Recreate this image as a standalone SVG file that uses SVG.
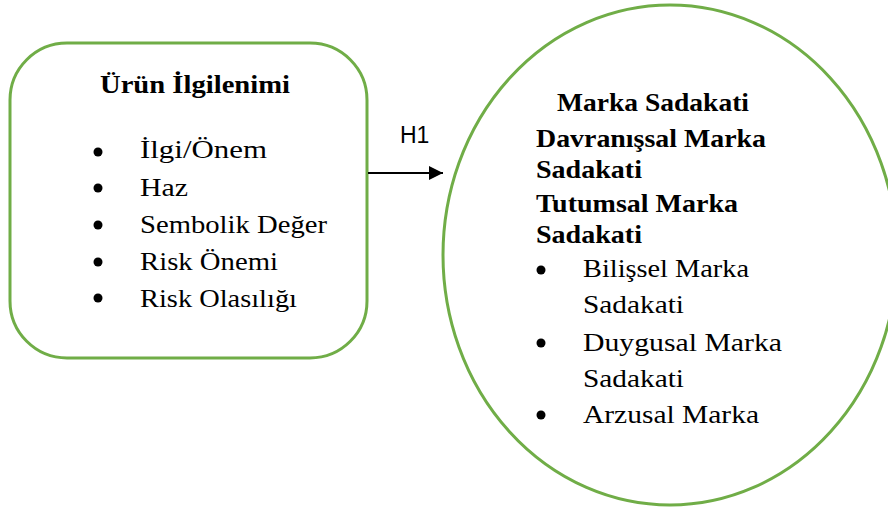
<svg xmlns="http://www.w3.org/2000/svg" width="888" height="510" viewBox="0 0 888 510">
<defs>
<style>
.shape{fill:#ffffff;stroke:#70AD47;stroke-width:3}
.t{font-family:"Liberation Serif","Times New Roman",serif;font-size:26px;fill:#000}
.b{font-weight:bold}
.h{font-family:"Liberation Sans",Arial,sans-serif;font-size:23px;fill:#000}
.dot{fill:#000}
</style>
<marker id="arr" viewBox="0 0 10 10" refX="10" refY="5" markerWidth="18" markerHeight="14" markerUnits="userSpaceOnUse" orient="auto">
<path d="M0,0 L10,5 L0,10 Z" fill="#000"/>
</marker>
</defs>
<rect width="888" height="510" fill="#fff"/>
<g id="urun-ilgilenimi">
<rect class="shape" x="10" y="43" width="357" height="315" rx="57" ry="57"/>
<text class="t b" x="100" y="93" textLength="190" lengthAdjust="spacingAndGlyphs">Ürün İlgilenimi</text>
<circle class="dot" cx="98" cy="152" r="4.5"/>
<circle class="dot" cx="98" cy="188" r="4.5"/>
<circle class="dot" cx="98" cy="225" r="4.5"/>
<circle class="dot" cx="98" cy="262" r="4.5"/>
<circle class="dot" cx="98" cy="298" r="4.5"/>
<text class="t" x="140" y="158" textLength="127" lengthAdjust="spacingAndGlyphs">İlgi/Önem</text>
<text class="t" x="140" y="196" textLength="48" lengthAdjust="spacingAndGlyphs">Haz</text>
<text class="t" x="140" y="233" textLength="187" lengthAdjust="spacingAndGlyphs">Sembolik Değer</text>
<text class="t" x="140" y="270" textLength="138" lengthAdjust="spacingAndGlyphs">Risk Önemi</text>
<text class="t" x="140" y="307" textLength="157" lengthAdjust="spacingAndGlyphs">Risk Olasılığı</text>
</g>
<g id="marka-sadakati">
<ellipse class="shape" cx="670" cy="255" rx="227" ry="250"/>
<text class="t b" x="557" y="111" textLength="192" lengthAdjust="spacingAndGlyphs">Marka Sadakati</text>
<text class="t b" x="536" y="147" textLength="230" lengthAdjust="spacingAndGlyphs">Davranışsal Marka</text>
<text class="t b" x="536" y="178" textLength="106" lengthAdjust="spacingAndGlyphs">Sadakati</text>
<text class="t b" x="536" y="212" textLength="202" lengthAdjust="spacingAndGlyphs">Tutumsal Marka</text>
<text class="t b" x="536" y="243" textLength="106" lengthAdjust="spacingAndGlyphs">Sadakati</text>
<circle class="dot" cx="541" cy="270" r="4.5"/>
<circle class="dot" cx="541" cy="343" r="4.5"/>
<circle class="dot" cx="541" cy="415" r="4.5"/>
<text class="t" x="583" y="277" textLength="166" lengthAdjust="spacingAndGlyphs">Bilişsel Marka</text>
<text class="t" x="583" y="313" textLength="101" lengthAdjust="spacingAndGlyphs">Sadakati</text>
<text class="t" x="583" y="351" textLength="199" lengthAdjust="spacingAndGlyphs">Duygusal Marka</text>
<text class="t" x="583" y="387" textLength="101" lengthAdjust="spacingAndGlyphs">Sadakati</text>
<text class="t" x="583" y="423" textLength="176" lengthAdjust="spacingAndGlyphs">Arzusal Marka</text>
</g>
<g id="connectors">
<line x1="368" y1="173" x2="443" y2="173" stroke="#000" stroke-width="2" marker-end="url(#arr)"/>
<text class="h" x="400" y="143">H1</text>
</g>
</svg>
